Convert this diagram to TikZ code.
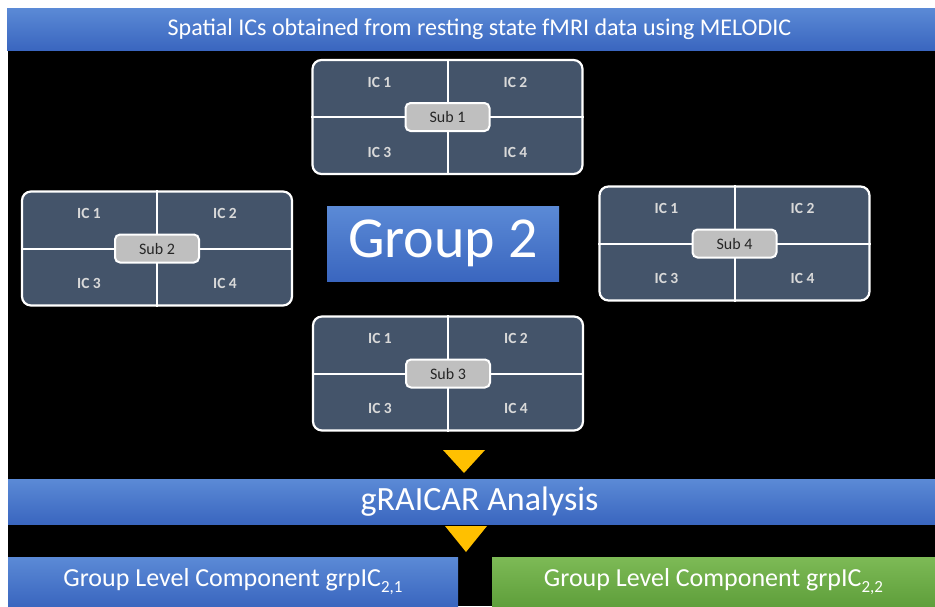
\documentclass[tikz,border=0pt]{standalone}
\usepackage{fontspec}
\setmainfont{Carlito}
\usetikzlibrary{calc}
\definecolor{slate}{HTML}{44546A}
\definecolor{bluetop}{HTML}{5B8AD6}
\definecolor{bluebot}{HTML}{3A66BF}
\definecolor{greentop}{HTML}{7DBA56}
\definecolor{greenbot}{HTML}{5F9F3B}
\definecolor{gold}{HTML}{FFC000}
\definecolor{subgray}{HTML}{BFBFBF}
\definecolor{ictext}{HTML}{D9D9D9}
\begin{document}
\begin{tikzpicture}[x=1pt,y=-1pt,
  bluebar/.style={rectangle, inner sep=0pt, top color=bluetop, bottom color=bluebot, draw=none},
  greenbar/.style={rectangle, inner sep=0pt, top color=greentop, bottom color=greenbot, draw=none},
  subbox/.style={rectangle, draw=white, line width=2.2pt, fill=slate, rounded corners=9pt, minimum width=270pt, minimum height=114pt, inner sep=0pt},
  divider/.style={draw=white, line width=2pt},
  sublabel/.style={rectangle, draw=white, line width=2pt, fill=subgray, rounded corners=5pt, minimum width=84pt, minimum height=28pt, inner sep=0pt, text=black!85, font=\fontsize{16}{16}\selectfont},
  ictxt/.style={text=ictext, font=\bfseries\fontsize{15.5}{15.5}\selectfont, inner sep=0pt},
  whitetxt/.style={text=white, inner sep=0pt},
  marker/.style={fill=gold, draw=none}
]
\useasboundingbox (0,0) rectangle (935,606);
\fill[white] (0,0) rectangle (935,606);
\fill[black] (8,48) rectangle (935,606);

% top banner
\node[bluebar, minimum width=928pt, minimum height=42pt] (banner) at (471,29) {};
\node[whitetxt, font=\fontsize{24}{24}\selectfont] (bannertxt) at (479.5,29) {Spatial ICs obtained from resting state fMRI data using MELODIC};

% subject boxes
\newcommand{\subjbox}[3]{%
  \node[subbox] (s#1) at (#2,#3) {};
  \draw[divider] (s#1.north) -- (s#1.south);
  \draw[divider] (s#1.west) -- (s#1.east);
  \node[ictxt] (s#1ic1) at ($(s#1.center)+(-68,-35)$) {IC 1};
  \node[ictxt] (s#1ic2) at ($(s#1.center)+(68,-35)$) {IC 2};
  \node[ictxt] (s#1ic3) at ($(s#1.center)+(-68,35)$) {IC 3};
  \node[ictxt] (s#1ic4) at ($(s#1.center)+(68,35)$) {IC 4};
  \node[sublabel] (s#1lab) at (s#1.center) {Sub #1};
}
\subjbox{1}{447.5}{117}
\subjbox{2}{157}{248.5}
\subjbox{4}{734.5}{243.5}
\subjbox{3}{448}{373.5}

% group 2
\node[bluebar, minimum width=232pt, minimum height=75pt, whitetxt, font=\fontsize{58}{58}\selectfont] (group) at (443,243.5) {Group 2};

% triangles
\fill[marker] (443,450) -- (485,450) -- (464,473) -- cycle;
\fill[marker] (445,526) -- (487,526) -- (466,552) -- cycle;

% gRAICAR bar
\node[bluebar, minimum width=927pt, minimum height=45pt] (graicar) at (471.5,501.5) {};
\node[whitetxt, font=\fontsize{34}{34}\selectfont] (graicartxt) at (479.5,502) {gRAICAR Analysis};

% bottom boxes
\node[bluebar, minimum width=450pt, minimum height=49pt, whitetxt, font=\fontsize{26}{26}\selectfont] (comp1) at (233,581.5) {Group Level Component grpIC\raisebox{-0.25em}{\fontsize{17}{17}\selectfont 2,1}};
\node[greenbar, minimum width=443pt, minimum height=49pt, whitetxt, font=\fontsize{26}{26}\selectfont] (comp2) at (713.5,581.5) {Group Level Component grpIC\raisebox{-0.25em}{\fontsize{17}{17}\selectfont 2,2}};
\end{tikzpicture}
\end{document}
